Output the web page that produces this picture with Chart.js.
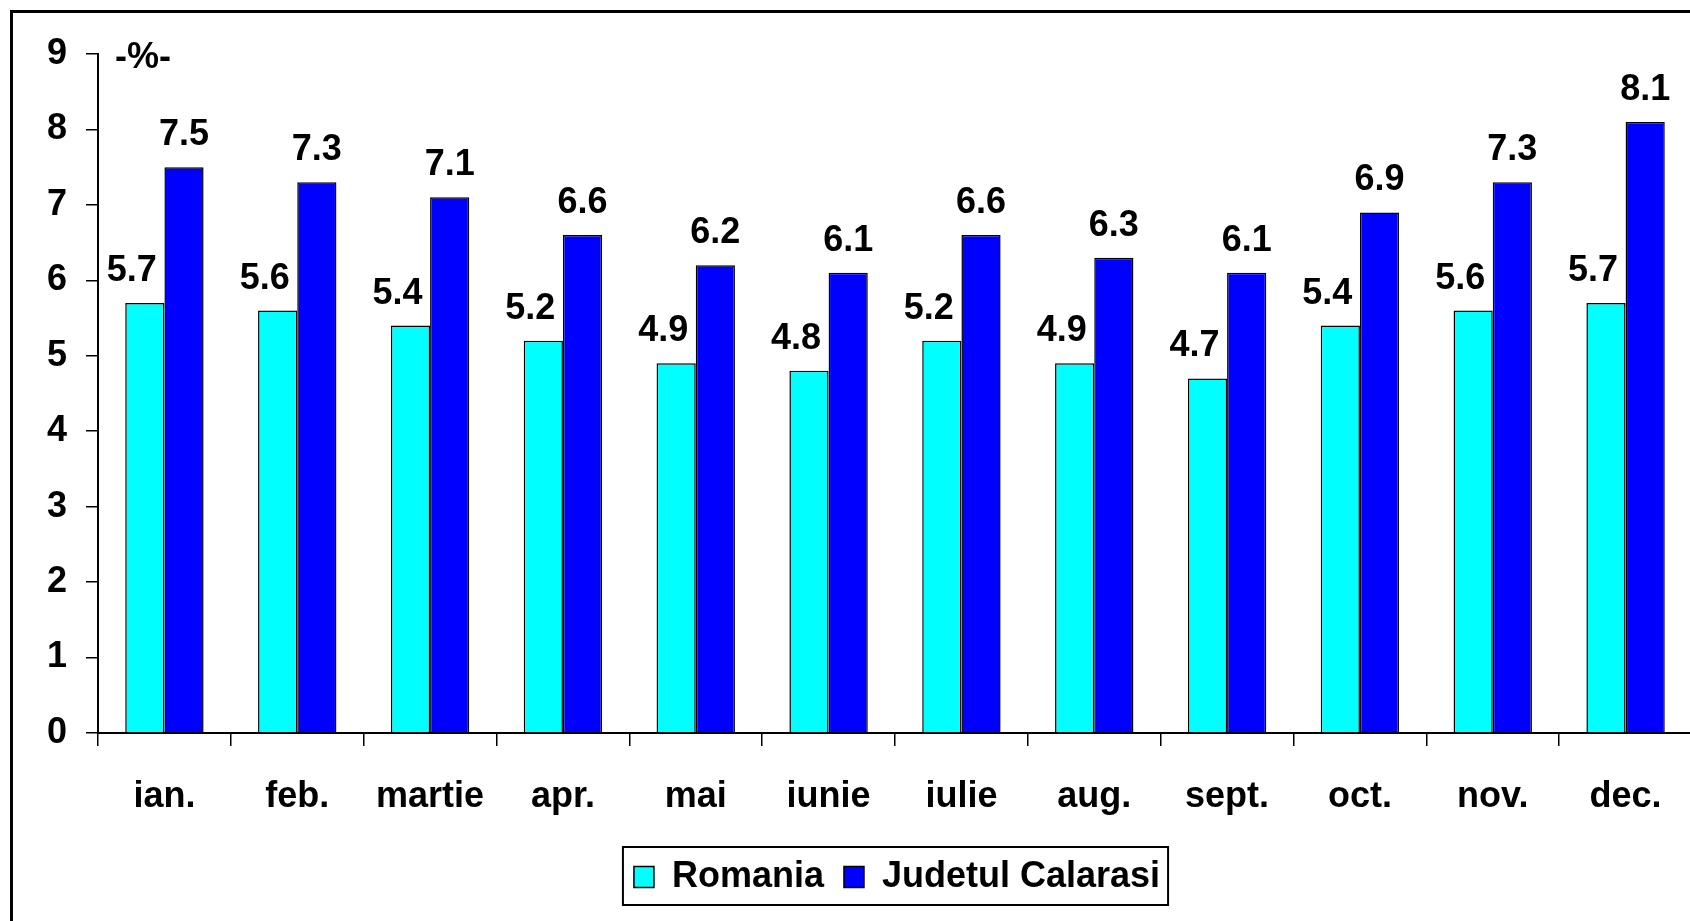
<!DOCTYPE html>
<html>
<head>
  <script src="https://cdn.jsdelivr.net/npm/chart.js"></script>
  <title>Romania / Judetul Calarasi</title>
  <style>
    html, body { margin: 0; padding: 0; background: #fff; overflow: hidden; }
    #wrap { position: absolute; left: 0; top: 0; width: 1694px; height: 921px; }
    #frame { position: absolute; left: 10px; top: 10px; width: 2000px; height: 2000px;
             border: 3px solid #000; pointer-events: none; }
  </style>
</head>
<body>
  <div id="wrap"><canvas id="chart" width="1694" height="921"></canvas></div>
  <div id="frame"></div>

  <script>
    // data
    const months = ['ian.', 'feb.', 'martie', 'apr.', 'mai', 'iunie', 'iulie', 'aug.', 'sept.', 'oct.', 'nov.', 'dec.'];
    const romania = [5.7, 5.6, 5.4, 5.2, 4.9, 4.8, 5.2, 4.9, 4.7, 5.4, 5.6, 5.7];
    const calarasi = [7.5, 7.3, 7.1, 6.6, 6.2, 6.1, 6.6, 6.3, 6.1, 6.9, 7.3, 8.1];
    const seriesNames = ['Romania', 'Judetul Calarasi'];
    const unitLabel = '-%-';

    const FONT = '"Liberation Sans", Arial, sans-serif';
    Chart.defaults.font.family = FONT;
    Chart.defaults.color = '#000';

    // value labels above the bars
    const valueLabels = {
      id: 'valueLabels',
      afterDatasetsDraw(chart) {
        const ctx = chart.ctx;
        ctx.save();
        ctx.font = 'bold 36px ' + FONT;
        ctx.fillStyle = '#000';
        ctx.textAlign = 'center';
        ctx.textBaseline = 'alphabetic';
        chart.data.datasets.forEach((ds, i) => {
          const meta = chart.getDatasetMeta(i);
          const dx = i === 0 ? -13 : 0;
          meta.data.forEach((bar, j) => {
            ctx.fillText(ds.data[j].toFixed(1), bar.x + dx, bar.y - 22);
          });
        });
        ctx.restore();
      }
    };

    // "-%-" unit text, legend nudged right and boxed
    const extras = {
      id: 'extras',
      afterLayout(chart) {
        // legend in the original sits a bit right of the page centre
        chart.legend.left += 41;
        chart.legend.right += 41;
      },
      afterDraw(chart) {
        const ctx = chart.ctx;
        const y = chart.scales.y;
        ctx.save();
        ctx.font = 'bold 36px ' + FONT;
        ctx.fillStyle = '#000';
        ctx.textAlign = 'left';
        ctx.textBaseline = 'alphabetic';
        ctx.fillText(unitLabel, chart.chartArea.left + 17, y.getPixelForValue(9) + 14);

        const hb = chart.legend.legendHitBoxes;
        if (hb && hb.length) {
          const first = hb[0], last = hb[hb.length - 1];
          const x0 = first.left - 11;
          const x1 = last.left + last.width + 8;
          ctx.strokeStyle = '#000';
          ctx.lineWidth = 2;
          ctx.strokeRect(x0, first.top - 12, x1 - x0, first.height + 22);
        }
        ctx.restore();
      }
    };

    new Chart(document.getElementById('chart'), {
      type: 'bar',
      data: {
        labels: months,
        datasets: [{
          label: seriesNames[0],
          data: romania,
          backgroundColor: '#00ffff',
          borderColor: '#000',
          borderWidth: 1.5
        }, {
          label: seriesNames[1],
          data: calarasi,
          backgroundColor: '#0000ff',
          borderColor: '#000',
          borderWidth: 1.5
        }]
      },
      options: {
        responsive: false,
        animation: false,
        categoryPercentage: 0.59,
        barPercentage: 1.0,
        layout: { padding: { top: 54, left: 20, right: 2, bottom: 16 } },
        plugins: {
          tooltip: { enabled: false },
          legend: {
            position: 'bottom',
            labels: {
              font: { size: 36, weight: 'bold' },
              color: '#000',
              boxWidth: 20,
              boxHeight: 21,
              padding: 20
            }
          }
        },
        scales: {
          x: {
            grid: { drawOnChartArea: false, tickLength: 13, color: '#000', lineWidth: 1.5, offset: true },
            border: { color: '#000', width: 2 },
            ticks: { padding: 29, font: { size: 36, weight: 'bold' }, color: '#000', maxRotation: 0, autoSkip: false },
            afterFit(s) { s.height = 106; }
          },
          y: {
            min: 0,
            max: 9,
            grid: { drawOnChartArea: false, tickLength: 12, color: '#000', lineWidth: 1.5 },
            border: { color: '#000', width: 2 },
            ticks: { stepSize: 1, padding: 19, font: { size: 36, weight: 'bold' }, color: '#000' },
            afterFit(s) { s.width = 78; }
          }
        }
      },
      plugins: [valueLabels, extras]
    });
  </script>
</body>
</html>
